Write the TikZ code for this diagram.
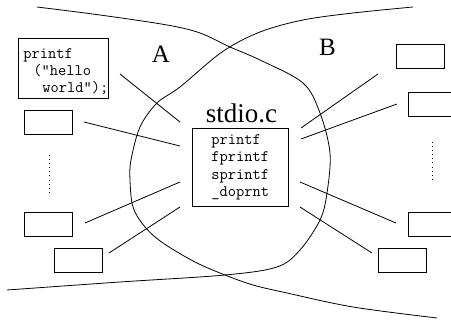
\documentclass[tikz,border=0pt]{standalone}
\usepackage{fontspec}
\setmainfont{Liberation Serif}
\begin{document}
\begin{tikzpicture}[x=1pt, y=-1pt, line width=0.8pt,
  slot/.style={draw, minimum width=48pt, minimum height=24pt, inner sep=0pt},
  codefont/.style={font=\ttfamily\fontsize{16}{17.3}\selectfont},
  code/.style={draw, anchor=north west, align=left, inner ysep=0pt, codefont},
  lbl/.style={anchor=base, font=\fontsize{25}{25}\selectfont},
  wire/.style={line width=0.8pt},
  dots/.style={line width=0.9pt, dash pattern=on 0.9pt off 3.2pt},
  border/.style={line width=0.8pt}]
\useasboundingbox (0,0) rectangle (451,320);

% the two sweeping curves whose overlap encloses the library
\draw[border] plot[smooth, tension=0.55] coordinates {
  (37,7) (100,15) (167,25) (200,33) (230,47) (260,60) (303,83) (320,113)
  (330,153) (327,193) (320,220) (300,250) (277,267) (225,275) (120,282) (7,290)};
\draw[border] plot[smooth, tension=0.55] coordinates {
  (413,7) (353,13) (303,20) (260,32) (222,52) (180,87) (157,103) (140,127)
  (131,160) (130,180) (133,207) (145,227) (163,243) (195,262) (225,275)
  (253,285) (287,293) (353,307) (437,318)};

% region labels
\node[lbl] (regA) at (161,63) {A};
\node[lbl] (regB) at (327.5,56) {B};
\node[anchor=base, font=\fontsize{27}{27}\selectfont] (libname) at (241.5,123) {stdio.c};

% the library and its routines
\node[code, text width=58pt, inner xsep=19pt, minimum height=78pt] (lib) at (192,128)
  {printf\\fprintf\\sprintf\\\_doprnt};

% a caller in region A: frame and its source line
\node[draw, anchor=north west, minimum width=90pt, minimum height=60pt, inner sep=0pt]
  (hello) at (18,38) {};
\node[codefont, align=left, anchor=west, inner sep=0pt] (hello-src) at (23,71.5)
  {printf\\\hspace*{10pt}("hello\\\hspace*{19pt}world");};

% other callers
\node[slot] (a1) at (48,122) {};
\node[slot] (a2) at (48,224) {};
\node[slot] (a3) at (78,260) {};
\node[slot] (b1) at (420,56) {};
\node[slot] (b2) at (432,104) {};
\node[slot] (b3) at (432,224) {};
\node[slot] (b4) at (402,260) {};

% elided callers
\draw[dots] (49,155) -- (49,196);
\draw[dots] (432,142) -- (432,183);

% link ends
\coordinate (hello-o) at (120,74);  \coordinate (lib-a0) at (180,122);
\coordinate (a1-o) at (84,122);     \coordinate (lib-a1) at (180,146);
\coordinate (a2-o) at (85,223);     \coordinate (lib-a2) at (180,182);
\coordinate (a3-o) at (109,253);    \coordinate (lib-a3) at (180,207);
\coordinate (b1-o) at (378,74);     \coordinate (lib-b1) at (301,128);
\coordinate (b2-o) at (397,104);    \coordinate (lib-b2) at (301,139);
\coordinate (b3-o) at (396,223);    \coordinate (lib-b3) at (300,182);
\coordinate (b4-o) at (372,253);    \coordinate (lib-b4) at (300,207);

\draw[wire] (hello-o) -- (lib-a0);
\draw[wire] (a1-o) -- (lib-a1);
\draw[wire] (a2-o) -- (lib-a2);
\draw[wire] (a3-o) -- (lib-a3);
\draw[wire] (b1-o) -- (lib-b1);
\draw[wire] (b2-o) -- (lib-b2);
\draw[wire] (b3-o) -- (lib-b3);
\draw[wire] (b4-o) -- (lib-b4);
\end{tikzpicture}
\end{document}
